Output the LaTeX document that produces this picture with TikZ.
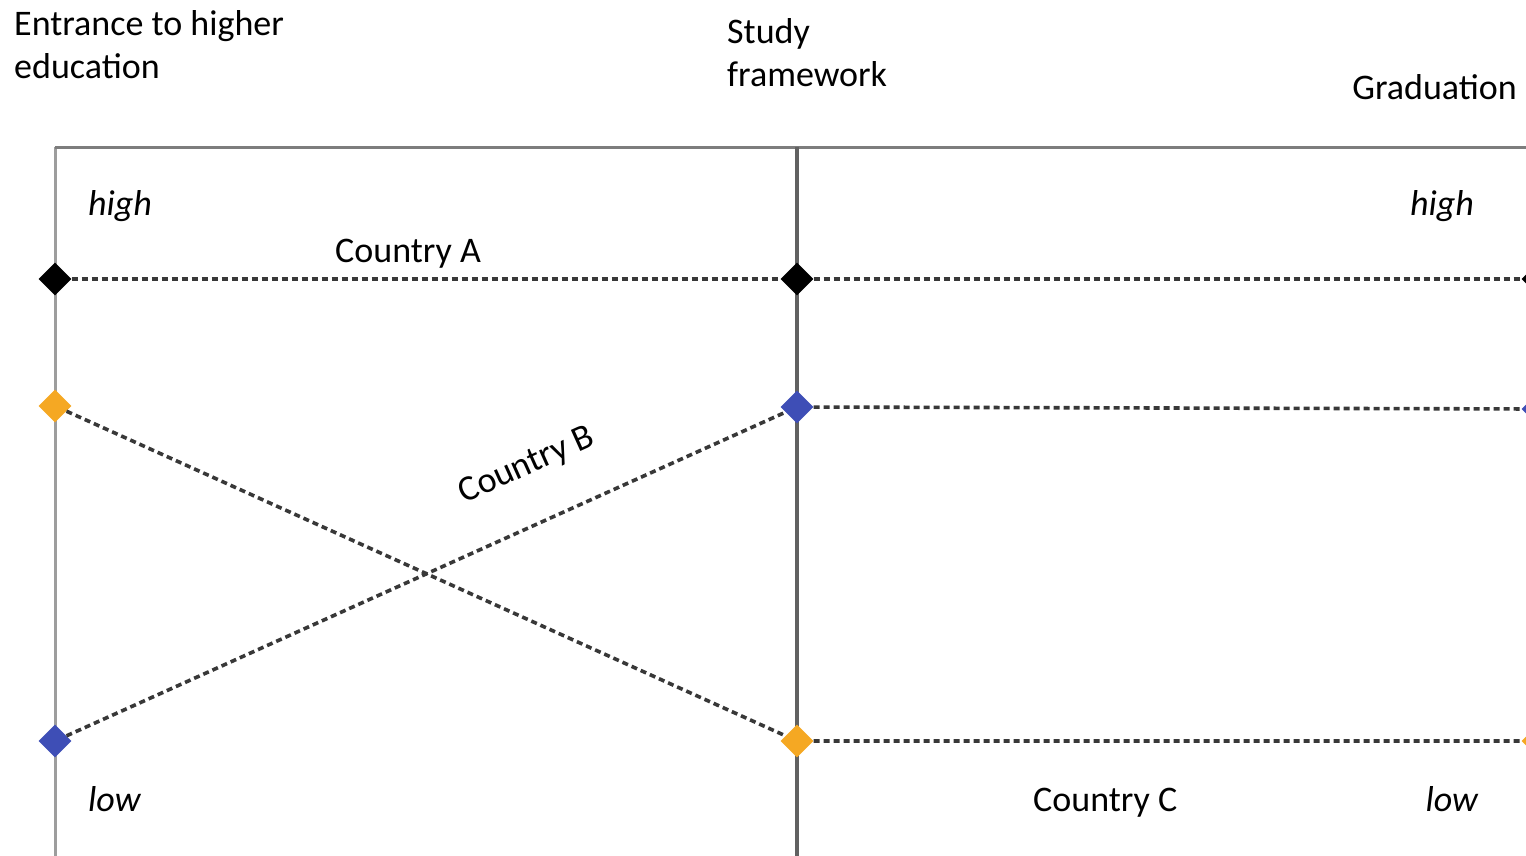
\documentclass[tikz,border=0pt]{standalone}
\usepackage{fontspec}
\setmainfont{Carlito}
\usepackage{xcolor}
\definecolor{framegray}{RGB}{125,125,125}
\definecolor{gold}{RGB}{245,168,35}
\definecolor{indigo}{RGB}{62,78,182}
\usepackage{tikz}
\usetikzlibrary{shapes.geometric, positioning}

\begin{document}
\begin{tikzpicture}[x=1pt, y=-1pt,
  pointmark/.style={diamond, aspect=1, inner sep=0pt, minimum size=33pt},
  link/.style={draw=black!78, line width=3.6pt, dash pattern=on 6pt off 4pt},
  txt/.style={inner sep=0pt, font=\fontsize{36}{43}\selectfont}]
  \useasboundingbox (0,0) rectangle (1526,855);
  \clip (0,0) rectangle (1526,855);
  % frame
  \draw[line width=3pt, draw=framegray!75] (55,860) -- (55,147);
  \draw[line width=3pt, draw=framegray] (55,147) -- (1545,147);
  \draw[line width=3.4pt, draw=black!62] (797,147) -- (797,860);
  % points
  \node[pointmark, fill=black] (entA) at (55,279) {};
  \node[pointmark, fill=black] (midA) at (797,279) {};
  \node[pointmark, fill=black] (gradA) at (1538,279) {};
  \node[pointmark, fill=indigo] (entB) at (55,741) {};
  \node[pointmark, fill=indigo] (midB) at (797,407) {};
  \node[pointmark, fill=indigo] (gradB) at (1538,409) {};
  \node[pointmark, fill=gold] (entC) at (55,406) {};
  \node[pointmark, fill=gold] (midC) at (797,741) {};
  \node[pointmark, fill=gold] (gradC) at (1538,741) {};
  % country paths
  \draw[link] (entA) -- (midA) -- (gradA);
  \draw[link] (entB) -- (midB) -- (gradB);
  \draw[link] (entC) -- (midC) -- (gradC);
  % labels
  \node[txt, anchor=base west, align=left] (entrance) at (14,78) {Entrance to higher\\education};
  \node[txt, anchor=base west, align=left] (framework) at (727,86) {Study\\framework};
  \node[txt, anchor=base east] (graduation) at (1517,99) {Graduation};
  \node[txt, anchor=base west] (highL) at (88,215) {\itshape high};
  \node[txt, anchor=base east] (highR) at (1474,215) {\itshape high};
  \node[txt, anchor=base west] (lowL) at (88,811) {\itshape low};
  \node[txt, anchor=base east] (lowR) at (1478,811) {\itshape low};
  \node[txt, anchor=base west] (labA) at (335,262) {Country A};
  \node[txt, rotate=24.2] (labB) at (527,466) {Country B};
  \node[txt, anchor=base west] (labC) at (1033,811) {Country C};
\end{tikzpicture}
\end{document}
